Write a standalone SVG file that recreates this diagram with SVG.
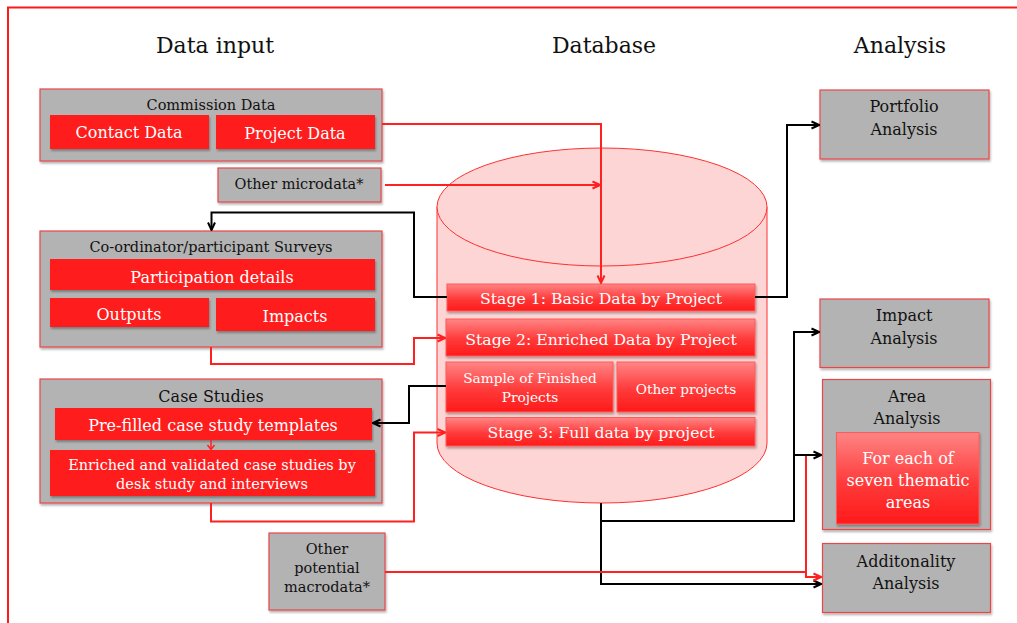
<svg xmlns="http://www.w3.org/2000/svg" width="1017" height="623" viewBox="0 0 1017 623">
  <defs>
    <style>
      text { font-family: "DejaVu Serif", "Liberation Serif", serif; text-anchor: middle; }
      .title { font-size: 22px; fill: #111; }
      .gl { font-size: 14.5px; fill: #111; }
      .gl16 { font-size: 16px; fill: #111; }
      .wl { font-size: 16px; fill: #fff; }
      .wl15 { font-size: 15.7px; fill: #fff; }
      .wl13 { font-size: 13.7px; fill: #fff; }
      .wl14 { font-size: 14.5px; fill: #fff; }
      .grey { fill: #b3b3b3; stroke: #e8474a; stroke-width: 1.2; filter: url(#sh); }
      .flat { fill: #ff1f1f; filter: url(#sh); }
      .grad { fill: url(#rg); stroke: #ff5a5a; stroke-width: 1; filter: url(#sh); }
      .cr { fill: none; stroke: #ff2020; stroke-width: 2; marker-end: url(#ar); }
      .crn { fill: none; stroke: #ff2020; stroke-width: 2; }
      .cb { fill: none; stroke: #000; stroke-width: 2; marker-end: url(#ab); }
    </style>
    <linearGradient id="rg" x1="0" y1="0" x2="0" y2="1">
      <stop offset="0" stop-color="#ff8585"/>
      <stop offset="0.55" stop-color="#ff3a3a"/>
      <stop offset="1" stop-color="#ff1a1a"/>
    </linearGradient>
    <filter id="sh" x="-10%" y="-10%" width="130%" height="140%">
      <feDropShadow dx="1" dy="2" stdDeviation="1.2" flood-color="#000" flood-opacity="0.3"/>
    </filter>
    <marker id="ab" viewBox="0 0 10 10" refX="9" refY="5" markerWidth="10" markerHeight="10" markerUnits="userSpaceOnUse" orient="auto">
      <path d="M1.5,1.5 L9,5 L1.5,8.5" fill="none" stroke="#000" stroke-width="2"/>
    </marker>
    <marker id="ar" viewBox="0 0 10 10" refX="9" refY="5" markerWidth="10" markerHeight="10" markerUnits="userSpaceOnUse" orient="auto">
      <path d="M1.5,1.5 L9,5 L1.5,8.5" fill="none" stroke="#ff2020" stroke-width="2"/>
    </marker>
  </defs>

  <rect x="0" y="0" width="1017" height="623" fill="#fff"/>
  <!-- frame -->
  <path d="M8,623 V7.5 H1017" fill="none" stroke="#ff1a1a" stroke-width="2"/>

  <!-- column headings -->
  <g id="headings">
    <text class="title" x="215" y="53">Data input</text>
    <text class="title" x="604" y="53">Database</text>
    <text class="title" x="900" y="53">Analysis</text>
  </g>

  <!-- database cylinder -->
  <g id="database">
    <path d="M437,207 V443 A165,60 0 0 0 767,443 V207 Z" fill="#fdd5d5" stroke="#ff3030" stroke-width="1"/>
    <ellipse cx="602" cy="207" rx="165" ry="59" fill="#fdd5d5" stroke="#ff3030" stroke-width="1"/>
  </g>

  <!-- data input -->
  <g id="commission-data">
    <rect class="grey" x="40" y="89" width="342" height="72"/>
    <text class="gl" x="211" y="110">Commission Data</text>
    <g id="contact-data">
      <rect class="flat" x="50" y="115" width="159" height="34"/>
      <text class="wl" x="129" y="138">Contact Data</text>
    </g>
    <g id="project-data">
      <rect class="flat" x="216" y="115" width="159" height="34"/>
      <text class="wl" x="295" y="139">Project Data</text>
    </g>
  </g>

  <g id="other-microdata">
    <rect class="grey" x="218" y="168" width="163" height="34"/>
    <text class="gl" x="299" y="189">Other microdata*</text>
  </g>

  <g id="surveys">
    <rect class="grey" x="40" y="231" width="342" height="116"/>
    <text class="gl" x="211" y="252">Co-ordinator/participant Surveys</text>
    <g id="participation">
      <rect class="flat" x="50" y="259" width="325" height="31"/>
      <text class="wl" x="212" y="282.5">Participation details</text>
    </g>
    <g id="outputs">
      <rect class="flat" x="50" y="298" width="159" height="29"/>
      <text class="wl" x="129" y="320">Outputs</text>
    </g>
    <g id="impacts">
      <rect class="flat" x="216" y="298" width="159" height="33"/>
      <text class="wl" x="295" y="321.5">Impacts</text>
    </g>
  </g>

  <g id="case-studies">
    <rect class="grey" x="40" y="379" width="342" height="124"/>
    <text class="gl16" x="211" y="401.5">Case Studies</text>
    <g id="templates">
      <rect class="flat" x="55" y="408" width="317" height="32"/>
      <text class="wl" x="213" y="431">Pre-filled case study templates</text>
    </g>
    <path d="M211,440 V448.5" fill="none" stroke="#ff2020" stroke-width="1.5"/>
    <path d="M207.5,445 L211,449.5 L214.5,445" fill="none" stroke="#ff2020" stroke-width="1.5"/>
    <g id="enriched-cases">
      <rect class="flat" x="50" y="450" width="325" height="46"/>
      <text class="wl14" x="212" y="470">Enriched and validated case studies by</text>
      <text class="wl14" x="212" y="489">desk study and interviews</text>
    </g>
  </g>

  <g id="macrodata">
    <rect class="grey" x="269" y="533" width="116" height="77"/>
    <text class="gl" x="327" y="554">Other</text>
    <text class="gl" x="327" y="573">potential</text>
    <text class="gl" x="327" y="592">macrodata*</text>
  </g>

  <!-- database stages -->
  <g id="stage1">
    <rect class="grad" x="447" y="284" width="308" height="27"/>
    <text class="wl15" x="601" y="304">Stage 1: Basic Data by Project</text>
  </g>
  <g id="stage2">
    <rect class="grad" x="446" y="319" width="309" height="37"/>
    <text class="wl15" x="601" y="344.5">Stage 2: Enriched Data by Project</text>
  </g>
  <g id="sample">
    <rect class="grad" x="446" y="362" width="167" height="50"/>
    <text class="wl13" x="530" y="382.5">Sample of Finished</text>
    <text class="wl13" x="530" y="401.5">Projects</text>
  </g>
  <g id="other-projects">
    <rect class="grad" x="617" y="362" width="138" height="50"/>
    <text class="wl13" x="686" y="394">Other projects</text>
  </g>
  <g id="stage3">
    <rect class="grad" x="446" y="417.5" width="309" height="28.5"/>
    <text class="wl15" x="601" y="438">Stage 3: Full data by project</text>
  </g>

  <!-- analysis -->
  <g id="portfolio">
    <rect class="grey" x="820" y="90" width="169" height="69"/>
    <text class="gl16" x="904" y="111.5">Portfolio</text>
    <text class="gl16" x="904" y="135">Analysis</text>
  </g>
  <g id="impact">
    <rect class="grey" x="820" y="299" width="169" height="68.5"/>
    <text class="gl16" x="904" y="321">Impact</text>
    <text class="gl16" x="904" y="344">Analysis</text>
  </g>
  <g id="area">
    <rect class="grey" x="822.5" y="379.5" width="168" height="150"/>
    <text class="gl16" x="907" y="401.5">Area</text>
    <text class="gl16" x="907" y="424">Analysis</text>
    <g id="thematic">
      <rect class="grad" x="836.5" y="432.5" width="142.5" height="91.5"/>
      <text class="wl" x="908" y="463.5">For each of</text>
      <text class="wl" x="908" y="485.5">seven thematic</text>
      <text class="wl" x="908" y="507.5">areas</text>
    </g>
  </g>
  <g id="additionality">
    <rect class="grey" x="822.5" y="543.5" width="168" height="69"/>
    <text class="gl16" x="906" y="566.5">Additonality</text>
    <text class="gl16" x="906" y="589">Analysis</text>
  </g>

  <!-- connectors -->
  <g id="connectors">
    <path class="cr" d="M382,124 H601 V283"/>
    <path class="cr" d="M385,185 H600"/>
    <path class="cb" d="M447,297 H414 V212.5 H211.5 V230"/>
    <path class="cb" d="M755,297 H787 V125 H819"/>
    <path class="cr" d="M211,347 V364 H414 V338 H445"/>
    <path class="cb" d="M446,386 H409 V423 H373"/>
    <path class="cr" d="M211,503 V521.5 H414 V432.5 H445"/>
    <path class="cb" d="M601,503 V584 H821"/>
    <path class="cb" d="M601,521 H794 V332 H819"/>
    <path class="cb" d="M794,455 H821"/>
    <path class="crn" d="M385,572 H806"/>
    <path class="cr" d="M806,456 V577 H821"/>
  </g>
</svg>
